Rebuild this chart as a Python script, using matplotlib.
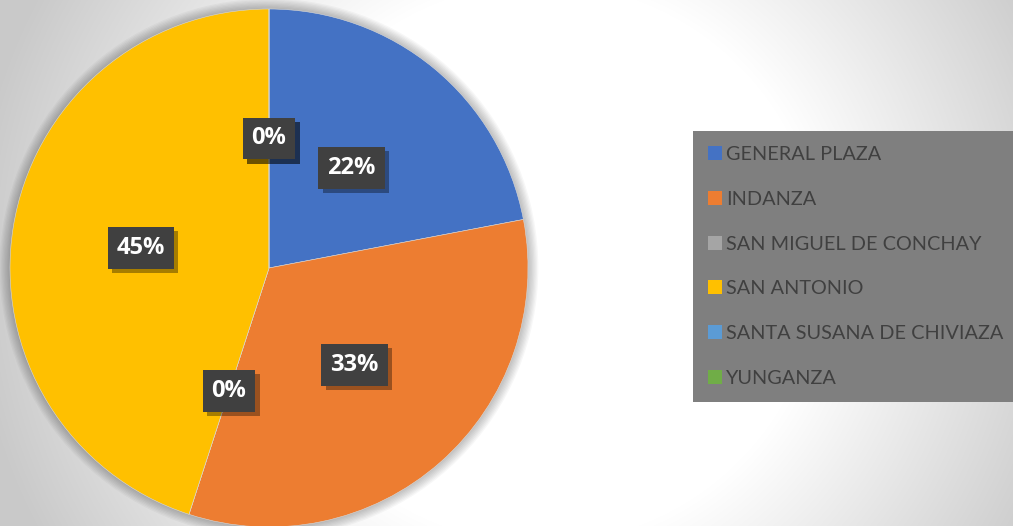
import matplotlib
matplotlib.use("Agg")
import matplotlib.pyplot as plt
import matplotlib.patheffects as pe
from matplotlib.patches import Circle, Patch
import numpy as np

# ── data
parishes = ["GENERAL PLAZA", "INDANZA", "SAN MIGUEL DE CONCHAY",
            "SAN ANTONIO", "SANTA SUSANA DE CHIVIAZA", "YUNGANZA"]
shares = [22, 33, 0, 45, 0, 0]
colors = ["#4472C4", "#ED7D31", "#A5A5A5", "#FFC000", "#5B9BD5", "#70AD47"]

W, H = 1013, 526
fig = plt.figure(figsize=(W / 100, H / 100), dpi=100)

# ── background: soft radial gradient, white in the middle
bg = fig.add_axes([0, 0, 1, 1])
yy, xx = np.mgrid[0:H, 0:W]
d = np.hypot(xx - 540, yy - 263)
t = np.clip((d - 280) / 290, 0, 1)
shade = 1.0 - 0.21 * t
bg.imshow(np.dstack([shade, shade, shade]), extent=[0, W, H, 0], aspect="auto")
bg.set_axis_off()

# ── pie
R = 259
cx, cy = 269, 526 - 268
ax = fig.add_axes([(cx - R) / W, (cy - R) / H, 2 * R / W, 2 * R / H])
ax.set_aspect("equal")

# soft shadow around the pie
for k in range(8):
    ax.add_patch(Circle((0, 0), 1 + (k + 1) * 0.005, color="black",
                        alpha=0.03, zorder=0, lw=0, clip_on=False))

wedges, _, autotexts = ax.pie(
    shares, colors=colors, startangle=90, counterclock=False,
    autopct="%1.0f%%", pctdistance=0.5,
    wedgeprops=dict(linewidth=0.4, edgecolor="#d8d8d8"),
)
for w in wedges:
    w.set_clip_on(False)
ax.set_xlim(-1, 1)
ax.set_ylim(-1, 1)

for txt in autotexts:
    txt.set_family("Open Sans")
    txt.set_fontweight("bold")
    txt.set_fontsize(17)
    txt.set_color("white")
    txt.set_bbox(dict(boxstyle="square,pad=0.38", facecolor="#404040",
                      edgecolor="none"))
    txt.get_bbox_patch().set_path_effects([
        pe.SimplePatchShadow(offset=(3, -3), shadow_rgbFace="black", alpha=0.35),
        pe.Normal(),
    ])

# ── legend
handles = [Patch(facecolor=c, edgecolor="none") for c in colors]
leg = fig.legend(
    handles, parishes, loc="upper left",
    bbox_to_anchor=(693 / W, 1 - 131 / H), borderaxespad=0,
    frameon=True, fancybox=False, facecolor="#7f7f7f", edgecolor="none",
    framealpha=1, labelcolor="#404040",
    prop=dict(family="Lato", size=14.3),
    handlelength=0.7, handleheight=0.7, handletextpad=0.2,
    labelspacing=1.4, borderpad=0.75,
)

fig.savefig("out.png", dpi=100)
plt.close(fig)
